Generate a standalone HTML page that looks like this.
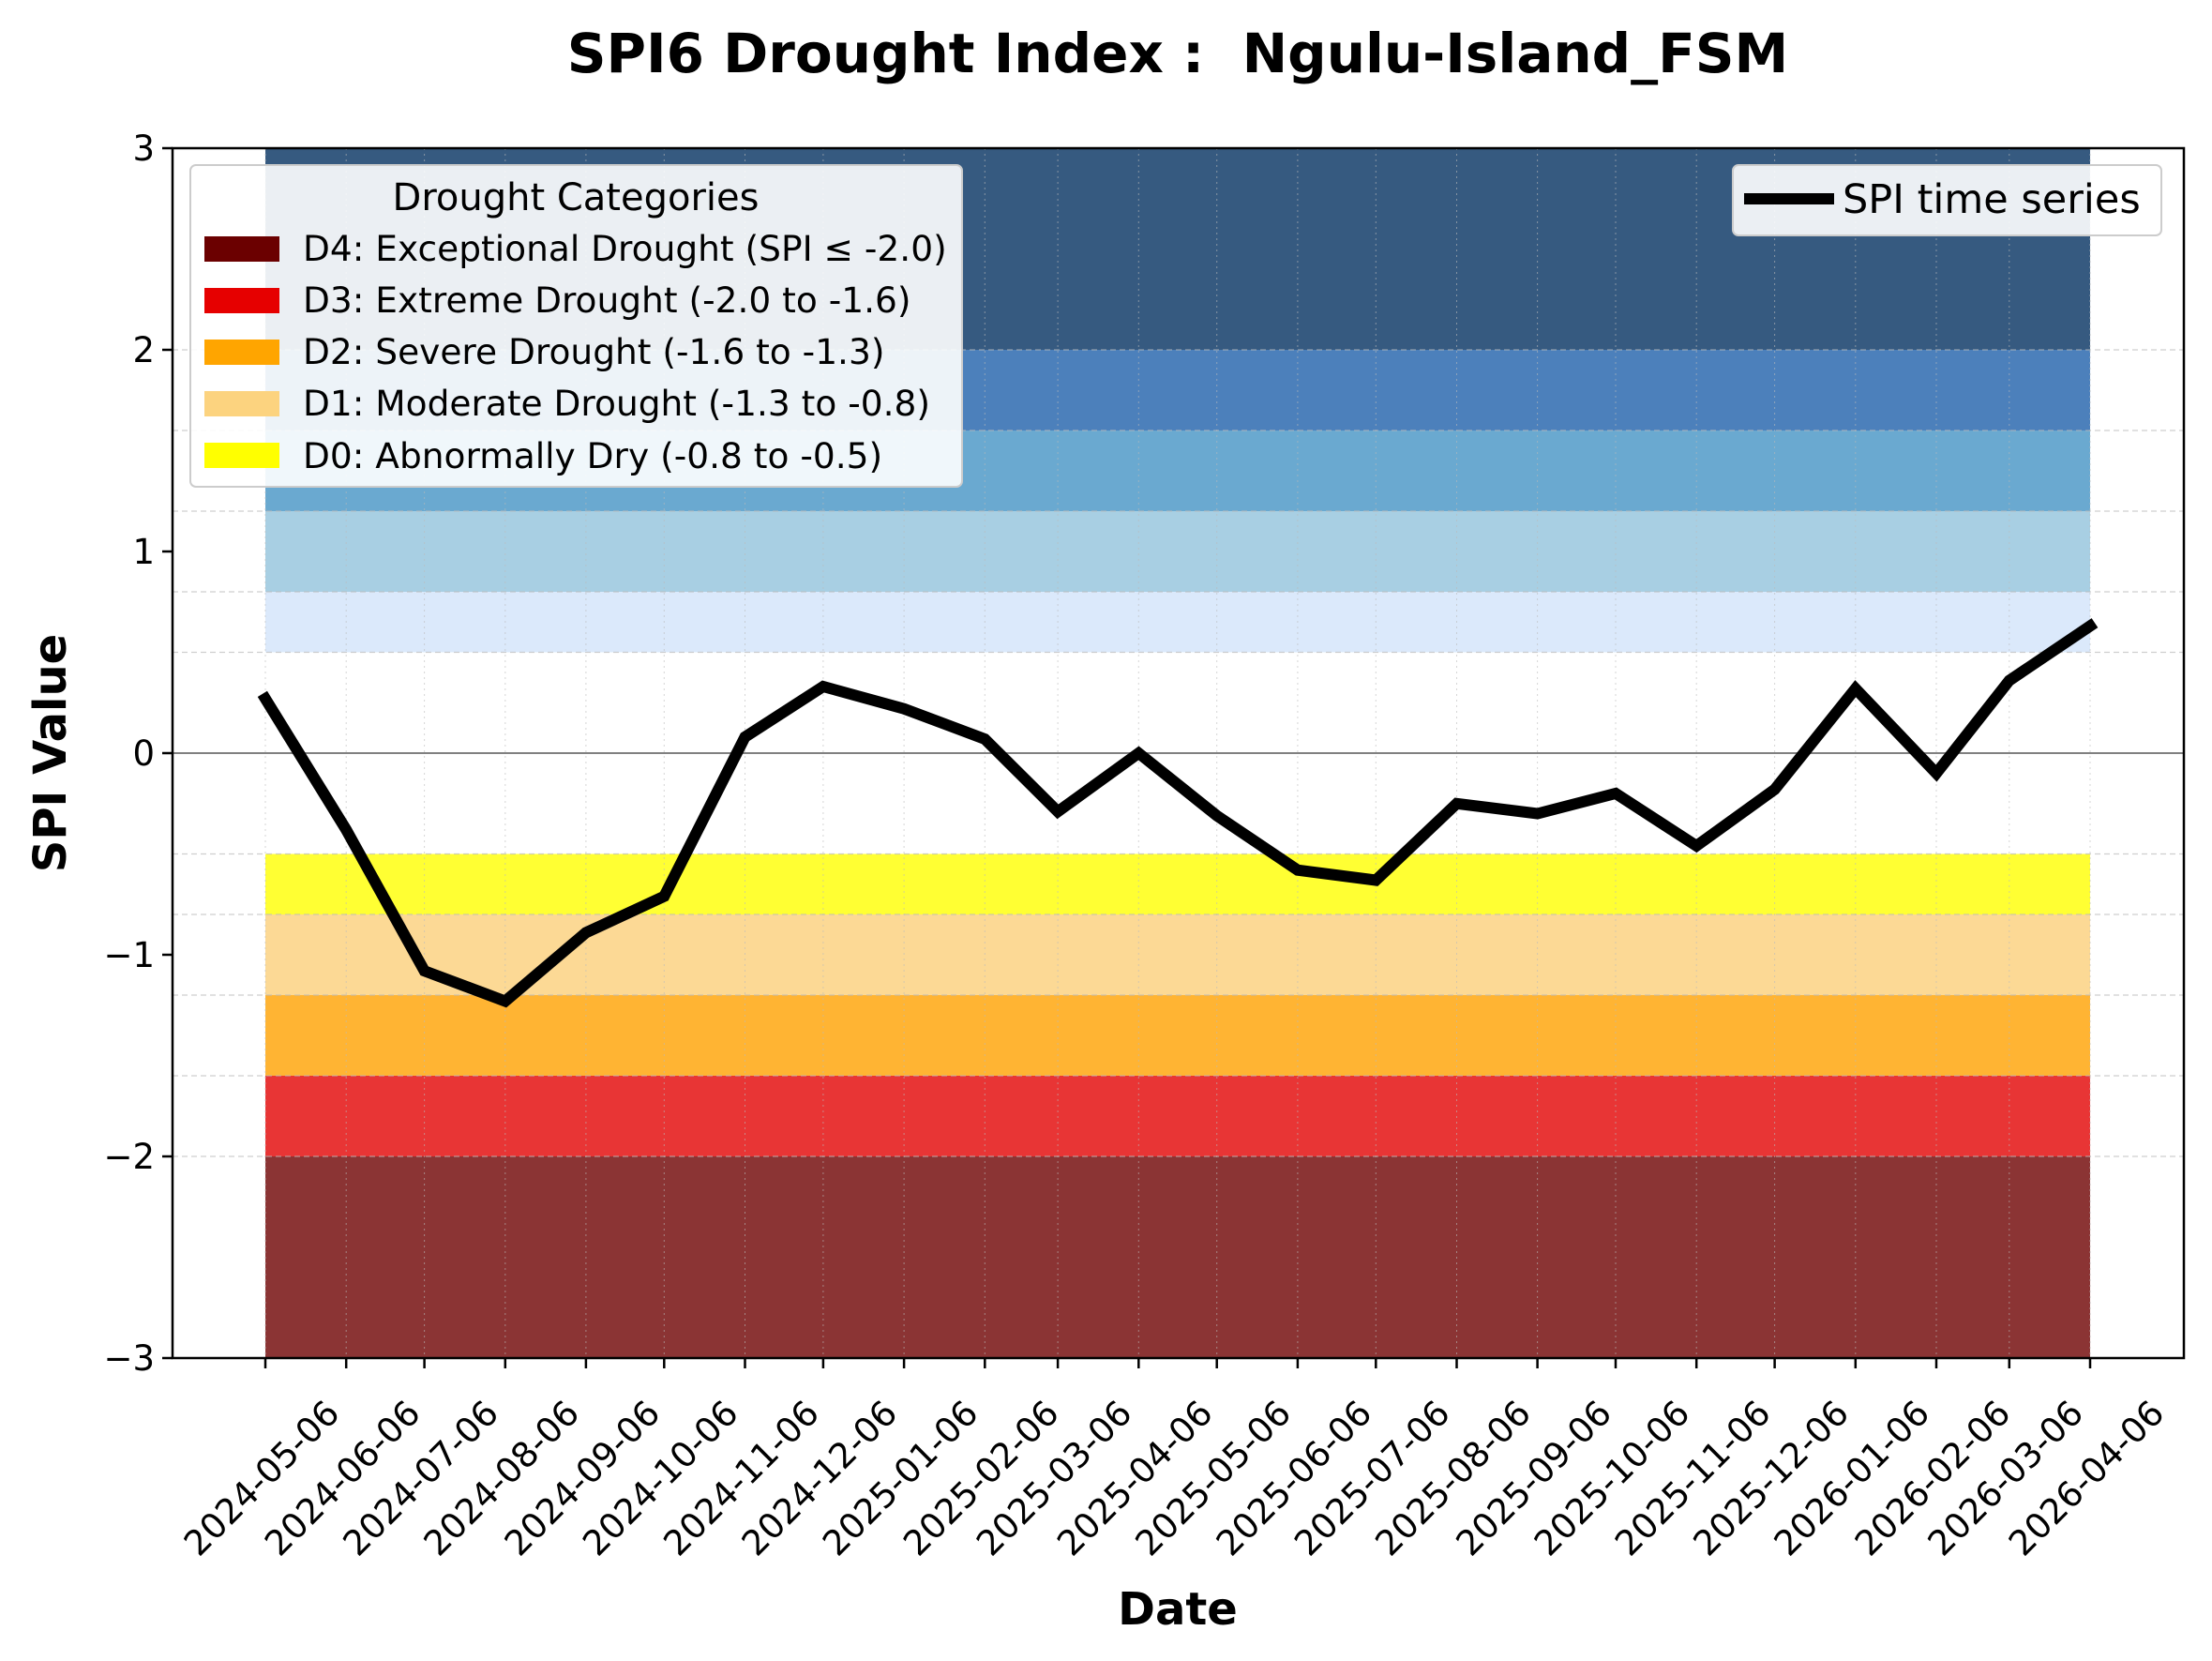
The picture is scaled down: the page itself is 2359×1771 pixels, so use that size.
<!DOCTYPE html>
<html><head><meta charset="utf-8"><style>body{margin:0;background:#fff}svg{display:block}text{font-family:"DejaVu Sans","Liberation Sans",sans-serif}</style></head>
<body>
<svg width="2359" height="1771" viewBox="0 0 2359 1771" xmlns="http://www.w3.org/2000/svg">
<rect width="2359" height="1771" fill="#fff"/>
<g>
<rect x="283" y="158" width="1946" height="215" fill="#365a80"/>
<rect x="283" y="373" width="1946" height="86" fill="#4c80bb"/>
<rect x="283" y="459" width="1946" height="86" fill="#6aa9d0"/>
<rect x="283" y="545" width="1946" height="86" fill="#a8cfe3"/>
<rect x="283" y="631" width="1946" height="64.5" fill="#dbe9fb"/>
<rect x="283" y="910.5" width="1946" height="64.5" fill="#ffff33"/>
<rect x="283" y="975" width="1946" height="86" fill="#fcd995"/>
<rect x="283" y="1061" width="1946" height="86" fill="#ffb433"/>
<rect x="283" y="1147" width="1946" height="86" fill="#e83535"/>
<rect x="283" y="1233" width="1946" height="215" fill="#8b3434"/>
</g>
<g stroke="#bbb" stroke-width="1.2" stroke-dasharray="6,4" opacity="0.7">
<line x1="184" x2="2329" y1="373" y2="373"/><line x1="184" x2="2329" y1="459" y2="459"/>
<line x1="184" x2="2329" y1="545" y2="545"/><line x1="184" x2="2329" y1="631" y2="631"/>
<line x1="184" x2="2329" y1="695.5" y2="695.5"/><line x1="184" x2="2329" y1="910.5" y2="910.5"/>
<line x1="184" x2="2329" y1="975" y2="975"/><line x1="184" x2="2329" y1="1061" y2="1061"/>
<line x1="184" x2="2329" y1="1147" y2="1147"/><line x1="184" x2="2329" y1="1233" y2="1233"/>
</g>
<g stroke="#bbb" stroke-width="1" stroke-dasharray="2,4" opacity="0.6">
<line x1="283" x2="283" y1="158" y2="1448"/><line x1="369.2" x2="369.2" y1="158" y2="1448"/><line x1="452.6" x2="452.6" y1="158" y2="1448"/><line x1="538.8" x2="538.8" y1="158" y2="1448"/><line x1="624.9" x2="624.9" y1="158" y2="1448"/><line x1="708.3" x2="708.3" y1="158" y2="1448"/><line x1="794.5" x2="794.5" y1="158" y2="1448"/><line x1="877.9" x2="877.9" y1="158" y2="1448"/><line x1="964.1" x2="964.1" y1="158" y2="1448"/><line x1="1050.3" x2="1050.3" y1="158" y2="1448"/><line x1="1128.1" x2="1128.1" y1="158" y2="1448"/><line x1="1214.3" x2="1214.3" y1="158" y2="1448"/><line x1="1297.7" x2="1297.7" y1="158" y2="1448"/><line x1="1383.9" x2="1383.9" y1="158" y2="1448"/><line x1="1467.3" x2="1467.3" y1="158" y2="1448"/><line x1="1553.5" x2="1553.5" y1="158" y2="1448"/><line x1="1639.6" x2="1639.6" y1="158" y2="1448"/><line x1="1723" x2="1723" y1="158" y2="1448"/><line x1="1809.2" x2="1809.2" y1="158" y2="1448"/><line x1="1892.6" x2="1892.6" y1="158" y2="1448"/><line x1="1978.8" x2="1978.8" y1="158" y2="1448"/><line x1="2065" x2="2065" y1="158" y2="1448"/><line x1="2142.8" x2="2142.8" y1="158" y2="1448"/><line x1="2229" x2="2229" y1="158" y2="1448"/>
</g>
<line x1="184" x2="2329" y1="803" y2="803" stroke="#808080" stroke-width="2"/>
<polyline fill="none" stroke="#000" stroke-width="12" stroke-linejoin="miter" stroke-linecap="square"
points="283,745 369.2,884.7 452.6,1035.2 538.8,1067.5 624.9,994.4 708.3,955.7 794.5,785.8 877.9,732 964.1,755.7 1050.3,788 1128.1,865.4 1214.3,803 1297.7,869.7 1383.9,927.7 1467.3,938.5 1553.5,856.8 1639.6,867.5 1723,846 1809.2,901.9 1892.6,841.7 1978.8,734.2 2065,824.5 2142.8,725.6 2229,667.5"/>
<rect x="184" y="158" width="2145" height="1290" fill="none" stroke="#000" stroke-width="2.5"/>
<g stroke="#000" stroke-width="2.5">
<line x1="173" x2="184" y1="158" y2="158"/><line x1="173" x2="184" y1="373" y2="373"/><line x1="173" x2="184" y1="588" y2="588"/><line x1="173" x2="184" y1="803" y2="803"/><line x1="173" x2="184" y1="1018" y2="1018"/><line x1="173" x2="184" y1="1233" y2="1233"/><line x1="173" x2="184" y1="1448" y2="1448"/>
</g>
<g font-size="37" text-anchor="end" fill="#000">
<text x="165" y="171">3</text><text x="165" y="386">2</text><text x="165" y="601">1</text><text x="165" y="816">0</text><text x="165" y="1031">−1</text><text x="165" y="1246">−2</text><text x="165" y="1461">−3</text>
</g>
<g stroke="#000" stroke-width="2.5">
<line x1="283" x2="283" y1="1448" y2="1459"/><line x1="369.2" x2="369.2" y1="1448" y2="1459"/><line x1="452.6" x2="452.6" y1="1448" y2="1459"/><line x1="538.8" x2="538.8" y1="1448" y2="1459"/><line x1="624.9" x2="624.9" y1="1448" y2="1459"/><line x1="708.3" x2="708.3" y1="1448" y2="1459"/><line x1="794.5" x2="794.5" y1="1448" y2="1459"/><line x1="877.9" x2="877.9" y1="1448" y2="1459"/><line x1="964.1" x2="964.1" y1="1448" y2="1459"/><line x1="1050.3" x2="1050.3" y1="1448" y2="1459"/><line x1="1128.1" x2="1128.1" y1="1448" y2="1459"/><line x1="1214.3" x2="1214.3" y1="1448" y2="1459"/><line x1="1297.7" x2="1297.7" y1="1448" y2="1459"/><line x1="1383.9" x2="1383.9" y1="1448" y2="1459"/><line x1="1467.3" x2="1467.3" y1="1448" y2="1459"/><line x1="1553.5" x2="1553.5" y1="1448" y2="1459"/><line x1="1639.6" x2="1639.6" y1="1448" y2="1459"/><line x1="1723" x2="1723" y1="1448" y2="1459"/><line x1="1809.2" x2="1809.2" y1="1448" y2="1459"/><line x1="1892.6" x2="1892.6" y1="1448" y2="1459"/><line x1="1978.8" x2="1978.8" y1="1448" y2="1459"/><line x1="2065" x2="2065" y1="1448" y2="1459"/><line x1="2142.8" x2="2142.8" y1="1448" y2="1459"/><line x1="2229" x2="2229" y1="1448" y2="1459"/>
</g>
<g font-size="37" text-anchor="middle" fill="#000">
<text transform="translate(288,1585) rotate(-45)">2024-05-06</text>
<text transform="translate(374.2,1585) rotate(-45)">2024-06-06</text>
<text transform="translate(457.6,1585) rotate(-45)">2024-07-06</text>
<text transform="translate(543.8,1585) rotate(-45)">2024-08-06</text>
<text transform="translate(629.9,1585) rotate(-45)">2024-09-06</text>
<text transform="translate(713.3,1585) rotate(-45)">2024-10-06</text>
<text transform="translate(799.5,1585) rotate(-45)">2024-11-06</text>
<text transform="translate(882.9,1585) rotate(-45)">2024-12-06</text>
<text transform="translate(969.1,1585) rotate(-45)">2025-01-06</text>
<text transform="translate(1055.3,1585) rotate(-45)">2025-02-06</text>
<text transform="translate(1133.1,1585) rotate(-45)">2025-03-06</text>
<text transform="translate(1219.3,1585) rotate(-45)">2025-04-06</text>
<text transform="translate(1302.7,1585) rotate(-45)">2025-05-06</text>
<text transform="translate(1388.9,1585) rotate(-45)">2025-06-06</text>
<text transform="translate(1472.3,1585) rotate(-45)">2025-07-06</text>
<text transform="translate(1558.5,1585) rotate(-45)">2025-08-06</text>
<text transform="translate(1644.6,1585) rotate(-45)">2025-09-06</text>
<text transform="translate(1728,1585) rotate(-45)">2025-10-06</text>
<text transform="translate(1814.2,1585) rotate(-45)">2025-11-06</text>
<text transform="translate(1897.6,1585) rotate(-45)">2025-12-06</text>
<text transform="translate(1983.8,1585) rotate(-45)">2026-01-06</text>
<text transform="translate(2070,1585) rotate(-45)">2026-02-06</text>
<text transform="translate(2147.8,1585) rotate(-45)">2026-03-06</text>
<text transform="translate(2234,1585) rotate(-45)">2026-04-06</text>
</g>
<text x="1256" y="77" font-size="58" font-weight="bold" text-anchor="middle">SPI6 Drought Index :&#160; Ngulu-Island_FSM</text>
<text x="1256" y="1732" font-size="48" font-weight="bold" text-anchor="middle">Date</text>
<text transform="translate(70,803) rotate(-90)" font-size="48" font-weight="bold" text-anchor="middle">SPI Value</text>
<rect x="203" y="176" width="823" height="343" rx="6" fill="#fff" fill-opacity="0.9" stroke="#ccc" stroke-width="2"/>
<text x="614" y="224" font-size="40" text-anchor="middle">Drought Categories</text>
<rect x="218" y="252" width="80" height="27" fill="#6b0000"/>
<rect x="218" y="307" width="80" height="27" fill="#e60000"/>
<rect x="218" y="362" width="80" height="27" fill="#ffa500"/>
<rect x="218" y="417" width="80" height="27" fill="#fcd37f"/>
<rect x="218" y="472" width="80" height="27" fill="#ffff00"/>
<g font-size="37.5">
<text x="323" y="278">D4: Exceptional Drought (SPI ≤ -2.0)</text>
<text x="323" y="333">D3: Extreme Drought (-2.0 to -1.6)</text>
<text x="323" y="388">D2: Severe Drought (-1.6 to -1.3)</text>
<text x="323" y="443">D1: Moderate Drought (-1.3 to -0.8)</text>
<text x="323" y="499">D0: Abnormally Dry (-0.8 to -0.5)</text>
</g>
<rect x="1848" y="176" width="457" height="75" rx="6" fill="#fff" fill-opacity="0.9" stroke="#ccc" stroke-width="2"/>
<line x1="1860" x2="1956" y1="212" y2="212" stroke="#000" stroke-width="12"/>
<text x="1965" y="227" font-size="43">SPI time series</text>
</svg>
</body></html>
